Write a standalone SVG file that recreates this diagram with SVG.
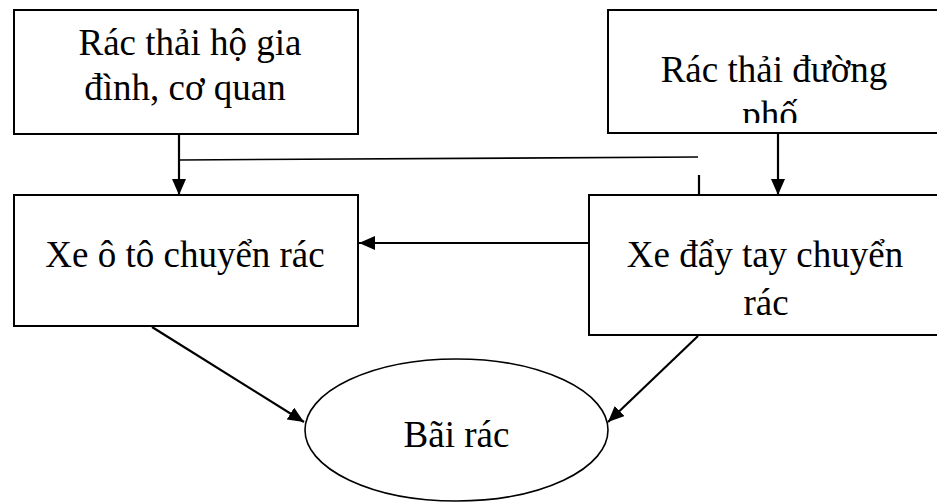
<svg xmlns="http://www.w3.org/2000/svg" width="937" height="502" viewBox="0 0 937 502">
  <style>
    .box { fill: #ffffff; stroke: #000000; stroke-width: 2; }
    .oval { fill: #ffffff; stroke: #000000; stroke-width: 1.6; }
    .lbl { font-family: "Liberation Serif", "Times New Roman", serif; font-size: 37px; fill: #000000; text-anchor: middle; }
    .wire { fill: none; stroke: #000000; stroke-width: 2.2; }
    .thin { fill: none; stroke: #000000; stroke-width: 1.6; }
  </style>
  <defs>
    <marker id="head" markerUnits="userSpaceOnUse" markerWidth="18" markerHeight="16" refX="16" refY="7" orient="auto">
      <path d="M0,0 L16,7 L0,14 z" fill="#000000"/>
    </marker>
    <clipPath id="clipStreet">
      <rect x="608" y="10" width="340" height="113"/>
    </clipPath>
  </defs>

  <rect width="937" height="502" fill="#ffffff"/>

  <!-- household / office waste -->
  <g id="household">
    <rect class="box" x="14" y="10" width="344" height="124"/>
    <text class="lbl" x="190" y="55">Rác thải hộ gia</text>
    <text class="lbl" x="185" y="100">đình, cơ quan</text>
  </g>

  <!-- street waste (box runs past the right edge) -->
  <g id="street">
    <rect class="box" x="608" y="10" width="360" height="123"/>
    <g clip-path="url(#clipStreet)">
      <text class="lbl" x="774" y="82">Rác thải đường</text>
      <text class="lbl" x="770" y="127">phố</text>
    </g>
  </g>

  <!-- truck -->
  <g id="truck">
    <rect class="box" x="14" y="195" width="344" height="131"/>
    <text class="lbl" x="185" y="267">Xe ô tô chuyển rác</text>
  </g>

  <!-- handcart -->
  <g id="handcart">
    <rect class="box" x="589" y="195" width="380" height="140"/>
    <text class="lbl" x="765" y="267">Xe đẩy tay chuyển</text>
    <text class="lbl" x="766" y="315">rác</text>
  </g>

  <!-- landfill -->
  <g id="landfill">
    <ellipse class="oval" cx="456.5" cy="430" rx="151.5" ry="71"/>
    <text class="lbl" x="456.5" y="447">Bãi rác</text>
  </g>

  <g id="connectors">
    <line class="wire" x1="179" y1="134" x2="179" y2="195" marker-end="url(#head)"/>
    <line class="thin" x1="179" y1="160" x2="698" y2="157"/>
    <line class="wire" x1="699" y1="175" x2="699" y2="195"/>
    <line class="wire" x1="778" y1="133" x2="778" y2="195" marker-end="url(#head)"/>
    <line class="wire" x1="589" y1="243" x2="359" y2="243" marker-end="url(#head)"/>
    <line class="wire" x1="152" y1="327" x2="304" y2="422" marker-end="url(#head)"/>
    <line class="wire" x1="698" y1="336" x2="608" y2="422" marker-end="url(#head)"/>
  </g>
</svg>
